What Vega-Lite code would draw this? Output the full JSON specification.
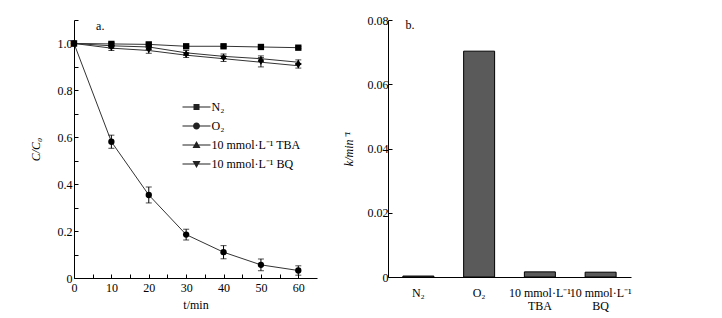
{
  "$schema": "https://vega.github.io/schema/vega-lite/v6.json",
  "padding": {"left": 29, "top": 14, "right": 5, "bottom": 5},
  "background": "white",
  "config": {
    "font": "Liberation Serif",
    "view": {"stroke": null},
    "axis": {
      "labelFont": "Liberation Serif", "labelFontSize": 12, "labelColor": "black",
      "titleFont": "Liberation Serif", "titleFontSize": 12, "titleFontWeight": "normal", "titleColor": "black",
      "domainColor": "black", "tickColor": "black", "grid": false, "domainWidth": 1, "tickWidth": 1
    },
    "text": {"font": "Liberation Serif", "fontSize": 12, "color": "black"}
  },
  "datasets": {
    "kinetics": [
      {"series": "N₂", "t": 0, "C": 1.0, "err": 0.004},
      {"series": "N₂", "t": 10, "C": 0.998, "err": 0.006},
      {"series": "N₂", "t": 20, "C": 0.996, "err": 0.006},
      {"series": "N₂", "t": 30, "C": 0.988, "err": 0.004},
      {"series": "N₂", "t": 40, "C": 0.988, "err": 0.006},
      {"series": "N₂", "t": 50, "C": 0.985, "err": 0.004},
      {"series": "N₂", "t": 60, "C": 0.982, "err": 0.004},
      {"series": "O₂", "t": 0, "C": 1.0, "err": 0.004},
      {"series": "O₂", "t": 10, "C": 0.581, "err": 0.028},
      {"series": "O₂", "t": 20, "C": 0.354, "err": 0.034},
      {"series": "O₂", "t": 30, "C": 0.185, "err": 0.023},
      {"series": "O₂", "t": 40, "C": 0.11, "err": 0.028},
      {"series": "O₂", "t": 50, "C": 0.056, "err": 0.025},
      {"series": "O₂", "t": 60, "C": 0.032, "err": 0.02},
      {"series": "10 mmol·L⁻¹ TBA", "t": 0, "C": 1.0, "err": 0.004},
      {"series": "10 mmol·L⁻¹ TBA", "t": 10, "C": 0.99, "err": 0.01},
      {"series": "10 mmol·L⁻¹ TBA", "t": 20, "C": 0.985, "err": 0.012},
      {"series": "10 mmol·L⁻¹ TBA", "t": 30, "C": 0.96, "err": 0.01},
      {"series": "10 mmol·L⁻¹ TBA", "t": 40, "C": 0.945, "err": 0.01},
      {"series": "10 mmol·L⁻¹ TBA", "t": 50, "C": 0.935, "err": 0.012},
      {"series": "10 mmol·L⁻¹ TBA", "t": 60, "C": 0.92, "err": 0.01},
      {"series": "10 mmol·L⁻¹ BQ", "t": 0, "C": 1.0, "err": 0.004},
      {"series": "10 mmol·L⁻¹ BQ", "t": 10, "C": 0.98, "err": 0.01},
      {"series": "10 mmol·L⁻¹ BQ", "t": 20, "C": 0.97, "err": 0.012},
      {"series": "10 mmol·L⁻¹ BQ", "t": 30, "C": 0.95, "err": 0.01},
      {"series": "10 mmol·L⁻¹ BQ", "t": 40, "C": 0.935, "err": 0.012},
      {"series": "10 mmol·L⁻¹ BQ", "t": 50, "C": 0.92, "err": 0.02},
      {"series": "10 mmol·L⁻¹ BQ", "t": 60, "C": 0.905, "err": 0.01}
    ],
    "rates": [
      {"cond": "N₂", "k": 0.0003},
      {"cond": "O₂", "k": 0.0703},
      {"cond": "10 mmol·L⁻¹|TBA", "k": 0.0016},
      {"cond": "10 mmol·L⁻¹|BQ", "k": 0.0015}
    ]
  },
  "spacing": 25,
  "hconcat": [
    {
      "width": 243,
      "height": 258,
      "data": {"name": "kinetics"},
      "encoding": {
        "x": {
          "field": "t", "type": "quantitative",
          "scale": {"domain": [0, 65], "nice": false},
          "axis": {
            "title": "t/min", "values": [0, 5, 10, 15, 20, 25, 30, 35, 40, 45, 50, 55, 60],
            "labelExpr": "datum.value % 10 == 0 ? datum.label : ''",
            "tickSize": -4, "labelPadding": 8, "titlePadding": 6, "labelFlush": false
          }
        },
        "y": {
          "field": "C", "type": "quantitative",
          "scale": {"domain": [0, 1.1], "nice": false},
          "axis": {
            "title": "C/C₀", "titleFontStyle": "italic",
            "values": [0, 0.1, 0.2, 0.3, 0.4, 0.5, 0.6, 0.7, 0.8, 0.9, 1.0, 1.1],
            "labelExpr": "datum.value == 0 ? '0' : ((round(datum.value * 10) % 2 == 0 && datum.value < 1.05) ? format(datum.value, '.1f') : '')",
            "tickSize": -4, "labelPadding": 6, "titlePadding": 15, "labelFlush": false
          }
        }
      },
      "layer": [
        {
          "mark": {"type": "line", "color": "#333333", "strokeWidth": 1},
          "encoding": {"detail": {"field": "series"}}
        },
        {
          "mark": {"type": "errorbar", "ticks": {"size": 6}, "color": "black"},
          "encoding": {
            "y": {"field": "C", "type": "quantitative"},
            "yError": {"field": "err"},
            "detail": {"field": "series"}
          }
        },
        {
          "mark": {"type": "point", "filled": true, "color": "black", "opacity": 1, "size": 40},
          "encoding": {
            "shape": {
              "field": "series",
              "scale": {"domain": ["N₂", "O₂", "10 mmol·L⁻¹ TBA", "10 mmol·L⁻¹ BQ"], "range": ["square", "circle", "triangle-up", "triangle-down"]},
              "legend": null
            }
          }
        },
        {
          "mark": {"type": "point", "filled": true, "color": "#222222", "opacity": 0, "size": 4},
          "encoding": {
            "shape": {
              "field": "series",
              "scale": {
                "domain": ["N₂", "O₂", "10 mmol·L⁻¹ TBA", "10 mmol·L⁻¹ BQ"],
                "range": [
                  "M-14,-0.5H14V0.5H-14Z M-3,-3H3V3H-3Z",
                  "M-14,-0.5H14V0.5H-14Z M-3.5,0A3.5,3.5 0 1,1 3.5,0A3.5,3.5 0 1,1 -3.5,0Z",
                  "M-14,-0.5H14V0.5H-14Z M0,-4L4,3H-4Z",
                  "M-14,-0.5H14V0.5H-14Z M0,4L-4,-3H4Z"
                ]
              },
              "legend": {
                "orient": "none", "legendX": 116.5, "legendY": 81, "title": null,
                "symbolSize": 4, "symbolOpacity": 1, "symbolFillColor": "#222222",
                "symbolStrokeWidth": 0, "labelFont": "Liberation Serif", "labelFontSize": 12,
                "labelColor": "black", "labelOffset": 9, "rowPadding": 7, "padding": 0,
                "symbolLimit": 0,
                "encode": {"symbols": {"update": {"opacity": {"value": 1}, "fill": {"value": "#222222"}, "strokeWidth": {"value": 0}}}}
              }
            }
          }
        },
        {
          "data": {"values": [{"px": 5.9, "py": 1.075, "lab": "a."}]},
          "mark": {"type": "text", "align": "left", "baseline": "middle"},
          "encoding": {
            "x": {"field": "px", "type": "quantitative"},
            "y": {"field": "py", "type": "quantitative"},
            "text": {"field": "lab"}
          }
        }
      ],
      "resolve": {"scale": {"shape": "independent"}}
    },
    {
      "width": 243,
      "height": 257,
      "data": {"name": "rates"},
      "encoding": {
        "x": {
          "field": "cond", "type": "nominal",
          "scale": {"domain": ["N₂", "O₂", "10 mmol·L⁻¹|TBA", "10 mmol·L⁻¹|BQ"], "paddingInner": 0.49, "paddingOuter": 0.245},
          "axis": {"title": null, "ticks": false, "labelAngle": 0, "labelExpr": "split(datum.label, '|')", "labelPadding": 10, "labelLineHeight": 13}
        }
      },
      "layer": [
        {
          "mark": {"type": "bar", "fill": "#5a5a5a", "stroke": "black", "strokeWidth": 1},
          "encoding": {
            "y": {
              "field": "k", "type": "quantitative",
              "scale": {"domain": [0, 0.08], "nice": false},
              "axis": {
                "title": "k/min⁻¹", "titleFontStyle": "italic",
                "values": [0, 0.01, 0.02, 0.03, 0.04, 0.05, 0.06, 0.07, 0.08],
                "labelExpr": "datum.value == 0 ? '0' : (round(datum.value * 100) % 2 == 0 ? format(datum.value, '.2f') : '')",
                "tickSize": -4, "labelPadding": 4, "titlePadding": 12, "labelFlush": false
              }
            }
          }
        },
        {
          "data": {"values": [{"cond": "N₂", "py": 0.0785, "lab": "b."}]},
          "mark": {"type": "text", "align": "left", "baseline": "middle", "dx": -13},
          "encoding": {
            "y": {"field": "py", "type": "quantitative"},
            "text": {"field": "lab"}
          }
        }
      ]
    }
  ]
}
